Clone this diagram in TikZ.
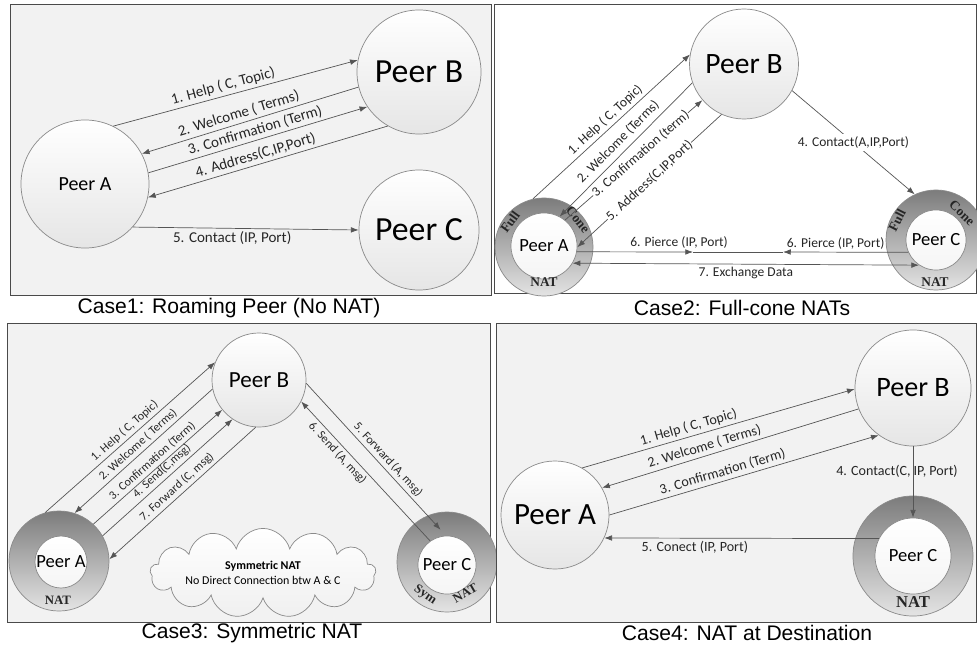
\documentclass[tikz,border=0pt]{standalone}
\usepackage{fontspec}
\setmainfont{Carlito}
\newfontfamily\capfont{Liberation Sans}
\newfontfamily\natfont{Liberation Serif}
\usetikzlibrary{arrows.meta,shapes.geometric,shapes.symbols}

\definecolor{framegray}{HTML}{4A4A4A}
\definecolor{linegray}{HTML}{555555}
\definecolor{edgegray}{HTML}{8A8A8A}
\definecolor{panelgray}{HTML}{F2F2F2}
\definecolor{ringdark}{HTML}{7C7C7C}
\definecolor{ringlight}{HTML}{E4E4E4}
\definecolor{textgray}{HTML}{262626}

\tikzset{
  panel/.style={draw=framegray, line width=0.6pt, fill=panelgray},
  peer/.style={circle, draw=edgegray, line width=0.5pt, top color=white, bottom color=black!10, inner sep=0pt, text=black},
  peerin/.style={circle, draw=edgegray, line width=0.5pt, top color=white, bottom color=black!4, inner sep=0pt, text=black},
  natring/.style={circle, draw=edgegray, line width=0.5pt, top color=ringdark, bottom color=ringlight, inner sep=0pt},
  natlbl/.style={font=\natfont\bfseries\fontsize{#1}{#1}\selectfont, text=black!85, inner sep=0pt},
  natlbl/.default=9.5,
  msg/.style={draw=linegray, line width=0.5pt, -{Latex[length=5.5pt,width=4pt]}},
  lbl/.style={font=\fontsize{#1}{#1}\selectfont, text=textgray, inner sep=2pt},
  lbl/.default=10,
  caption/.style={font=\capfont\fontsize{15}{17}\selectfont}
}

\begin{document}
\begin{tikzpicture}[x=0.025cm, y=-0.025cm]
\useasboundingbox (0,0) rectangle (977,649);
\fill[white] (0,0) rectangle (977,649);

% Case 1: roaming peer
\draw[panel] (10,4) rectangle (491,295);
\node[peer, minimum size=3.2cm, font=\fontsize{14.2}{16}\selectfont] (roamA) at (85,184) {Peer A};
\node[peer, minimum size=3.1cm, font=\fontsize{24}{26}\selectfont] (roamB) at (419,72) {Peer B};
\node[peer, minimum size=3.0cm, font=\fontsize{24}{26}\selectfont] (roamC) at (419,230) {Peer C};
\draw[msg] (roamA.64) -- (roamB.169) node[lbl=10.7, pos=0.46, above, sloped] {1. Help ( C, Topic)};
\draw[msg] (roamB.194) -- (roamA.28) node[lbl=10.7, pos=0.54, above, sloped] {2. Welcome ( Terms)};
\draw[msg] (roamA.10) -- (roamB.214) node[lbl=10.7, midway, above, sloped] {3. Confirmation (Term)};
\draw[msg] (roamB.240) -- (roamA.-12) node[lbl=10.7, pos=0.54, above, sloped] {4. Address(C,IP,Port)};
\draw[msg] (roamA.-42) -- (roamC.180) node[lbl=10.7, pos=0.44, below] {5. Contact (IP, Port)};
\node[caption] (capRoam) at (229,308) {Case1: Roaming Peer (No NAT)};

% Case 2: full-cone NATs
\draw[panel, fill=white] (494,4) rectangle (976,293);
\node[peer, ellipse, minimum width=2.35cm, minimum height=2.75cm, font=\fontsize{21}{23}\selectfont] (coneB) at (744,64) {Peer B};
\node[natring, minimum size=2.45cm] (coneAnat) at (544,247) {};
\node[peerin, minimum size=1.65cm, font=\fontsize{13.2}{15}\selectfont] (coneA) at (544,246) {Peer A};
\node[natlbl, rotate=54] (coneAfull) at (510,222) {Full};
\node[natlbl, rotate=-52] (coneAcone) at (578,220) {Cone};
\node[natlbl] (coneAtag) at (544,282) {NAT};
\node[natring, minimum size=2.5cm] (coneCnat) at (936,240) {};
\node[peerin, minimum size=1.5cm, font=\fontsize{13.2}{15}\selectfont] (coneC) at (936,240) {Peer C};
\node[natlbl, rotate=63] (coneCfull) at (897,220) {Full};
\node[natlbl, rotate=-44] (coneCcone) at (962,213) {Cone};
\node[natlbl] (coneCtag) at (935,282) {NAT};
\draw[msg] (coneAnat.103) -- (coneB.170) node[lbl=9.6, midway, above, sloped] {1. Help ( C, Topic)};
\draw[msg] (coneB.200) -- (coneA.62) node[lbl=9.6, midway, above=3pt, sloped, fill=white, inner sep=0.5pt] {2. Welcome (Terms)};
\draw[msg] (coneA.51) -- (coneB.221) node[lbl=9.6, pos=0.55, sloped, fill=white, inner sep=0.5pt] {3. Confirmation (term)};
\draw[msg] (coneB.246) -- (coneA.-2) node[lbl=9.6, midway, sloped, fill=white, inner sep=0.5pt] {5. Address(C,IP,Port)};
\draw[msg] (coneB.331) -- (coneCnat.115) node[lbl=9.6, midway, fill=white] {4. Contact(A,IP,Port)};
\coordinate (pierceA) at (693,252);
\coordinate (pierceC) at (783,252);
\draw[msg] (coneA.-10) -- (pierceA) node[lbl=9.6, pos=0.88, above] {6. Pierce (IP, Port)};
\draw[msg] (coneC.204) -- (pierceC) node[lbl=9.6, pos=0.58, above] {6. Pierce (IP, Port)};
\draw[linegray, line width=0.5pt] (pierceA) -- (pierceC);
\draw[msg, {Latex[length=5.5pt,width=4pt]}-{Latex[length=5.5pt,width=4pt]}] (coneA.-31) -- (coneC.236) node[lbl=9.6, midway, below] {7. Exchange Data};
\node[caption] (capCone) at (742,308) {Case2: Full-cone NATs};

% Case 3: symmetric NAT
\draw[panel] (7,323) rectangle (490,622);
\node[peer, minimum size=2.35cm, font=\fontsize{16.4}{18}\selectfont] (symB) at (259,380) {Peer B};
\node[natring, minimum size=2.5cm] (symAnat) at (59,561) {};
\node[peerin, minimum size=1.3cm, font=\fontsize{13.2}{15}\selectfont] (symA) at (61,562) {Peer A};
\node[natlbl=9.1] (symAtag) at (58,600) {NAT};
\node[natring, minimum size=2.5cm] (symCnat) at (447,562) {};
\node[peerin, minimum size=1.45cm, font=\fontsize{13.2}{15}\selectfont] (symC) at (447,565) {Peer C};
\node[natlbl=9.1, rotate=-34] (symCsym) at (425,595) {Sym};
\node[natlbl=9.1, rotate=30] (symCtag) at (465,593) {NAT};
\node[cloud, cloud puffs=13, aspect=4.5, draw=edgegray, line width=0.5pt, top color=white, bottom color=black!6, minimum width=5.6cm, minimum height=1.45cm, inner sep=1pt, align=center, font=\fontsize{8.5}{11}\selectfont] (symCloud) at (263,573) {\textbf{Symmetric NAT}\\No Direct Connection btw A \& C};
\draw[msg] (symAnat.106) -- (symB.158) node[lbl=8.5, midway, above, sloped] {1. Help ( C, Topic)};
\draw[msg] (symB.191) -- (symAnat.72) node[lbl=8.5, midway, above, sloped] {2. Welcome ( Terms)};
\draw[msg] (symAnat.47) -- (symB.219) node[lbl=8.5, midway, above, sloped] {3. Confirmation (Term)};
\draw[msg] (symAnat.30) -- (symB.236) node[lbl=8.5, midway, above, sloped] {4. Send(C,msg)};
\draw[msg] (symB.266) -- (symAnat.2) node[lbl=8.5, midway, above, sloped] {7. Forward (C, msg)};
\draw[msg, shorten >=0.2cm] (symB.-4) -- (symC.92) node[lbl=8.5, pos=0.54, above, sloped] {5. Forward (A, msg)};
\draw[msg] (symC.125) -- (symB.333) node[lbl=8.5, pos=0.67, below, sloped] {6. Send (A, msg)};
\node[caption] (capSym) at (252,633) {Case3: Symmetric NAT};

% Case 4: NAT at destination
\draw[panel] (496,323) rectangle (976,622);
\node[peer, minimum size=2.7cm, font=\fontsize{22}{24}\selectfont] (destA) at (555,515) {Peer A};
\node[peer, minimum size=2.9cm, font=\fontsize{20}{22}\selectfont] (destB) at (913,388) {Peer B};
\node[natring, minimum size=3.0cm] (destCnat) at (913,556) {};
\node[peerin, minimum size=1.9cm, font=\fontsize{13.2}{15}\selectfont] (destC) at (913,556) {Peer C};
\node[natlbl=11.8] (destCtag) at (913,602) {NAT};
\draw[msg] (destA.60) -- (destB.181) node[lbl, pos=0.4, above, sloped] {1. Help ( C, Topic)};
\draw[msg] (destB.201) -- (destA.30) node[lbl, pos=0.59, above, sloped] {2. Welcome ( Terms)};
\draw[msg] (destA.0) -- (destB.234) node[lbl, pos=0.43, above, sloped] {3. Confirmation (Term)};
\draw[msg] (destB.south) -- (destC.north) node[lbl, pos=0.35, xshift=-0.4cm] {4. Contact(C, IP, Port)};
\draw[msg] (destC.153) -- (destA.-25) node[lbl, pos=0.67, below] {5. Conect (IP, Port)};
\node[caption] (capDest) at (747,633) {Case4: NAT at Destination};
\end{tikzpicture}
\end{document}
